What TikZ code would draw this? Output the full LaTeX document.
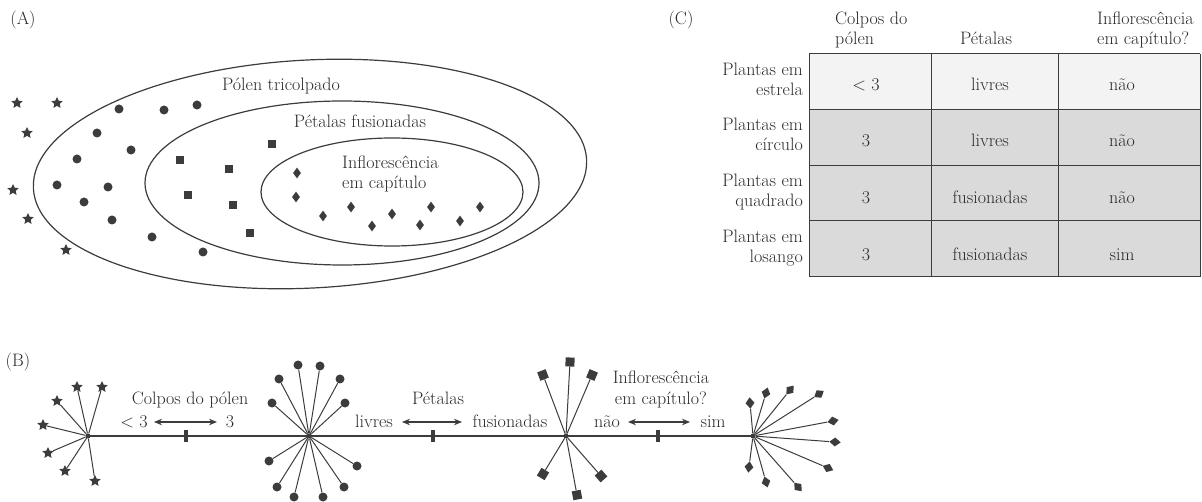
\documentclass[tikz,border=0pt]{standalone}
\usepackage{fontspec}
\usetikzlibrary{shapes.geometric,arrows.meta}
\definecolor{ink}{HTML}{3C3C3C}
\definecolor{txtc}{HTML}{2A2A2A}
\definecolor{rowa}{HTML}{F3F3F3}
\definecolor{rowb}{HTML}{DADADA}
\begin{document}
\begin{tikzpicture}[x=1pt,y=-1pt,
  txt/.style={anchor=base,inner sep=0pt,text=txtc,font=\fontsize{18}{20}\selectfont},
  txtl/.style={txt,anchor=base west},
  txtr/.style={txt,anchor=base east},
  dot/.style={circle,fill=ink,inner sep=0pt,minimum size=9pt},
  sqr/.style={rectangle,fill=ink,inner sep=0pt,minimum size=8pt},
  dia/.style={diamond,fill=ink,inner sep=0pt,minimum width=8pt,minimum height=11pt},
  stl/.style={star,star points=5,star point ratio=2.1,fill=ink,inner sep=0pt,minimum size=12pt},
  ell/.style={draw=ink,line width=1.2pt},
  spoke/.style={draw=ink,line width=1pt},
  hub/.style={circle,fill=ink,inner sep=0pt,minimum size=5pt},
  dbl/.style={draw=ink,line width=1.2pt,{Stealth[length=8pt,width=6.5pt]}-{Stealth[length=8pt,width=6.5pt]}},
  tickbar/.style={rectangle,fill=ink,inner sep=0pt,minimum width=3.6pt,minimum height=12pt},
  grid/.style={draw=ink,line width=1pt}
]
\useasboundingbox (0,0) rectangle (1202,502);

% ================= (A) =================
\node[txt] (labA) at (23,25) {(A)};
\draw[ell,rotate around={3:(310,174)}] (310,174) ellipse [x radius=277, y radius=114];
\draw[ell] (342,183) ellipse [x radius=197, y radius=82];
\draw[ell] (392,192) ellipse [x radius=131, y radius=54];
\node[txt] (aPolen) at (281,91) {Pólen tricolpado};
\node[txt] (aPet) at (360,128) {Pétalas fusionadas};
\node[txtl] (aInf1) at (342,169) {Inflorescência};
\node[txtl] (aInf2) at (342,189) {em capítulo};

\foreach \x/\y [count=\i] in {17/103,57/103,27/133,13/190,28/219,66/250}
  \node[stl] (aS\i) at (\x,\y) {};
\foreach \x/\y [count=\i] in {119/109,164/110,197/105,97/133,131/150,77/159,57/185,108/187,84/202,112/220,152/237,203/252}
  \node[dot] (aC\i) at (\x,\y) {};
\foreach \x/\y [count=\i] in {272/144,180/160,229/169,188/195,233/205,250/233}
  \node[sqr] (aQ\i) at (\x,\y) {};
\foreach \x/\y [count=\i] in {297/173,296/197,323/216,351/207,372/226,392/214,420/225,431/207,460/221,480/207}
  \node[dia] (aD\i) at (\x,\y) {};

% ================= (C) =================
\node[txt] (labC) at (681,25) {(C)};
\node[txtl] (cH1a) at (835,25) {Colpos do};
\node[txtl] (cH1b) at (835,45) {pólen};
\node[txt] (cH2) at (986,45) {Pétalas};
\node[txtl] (cH3a) at (1097,25) {Inflorescência};
\node[txtl] (cH3b) at (1097,45) {em capítulo?};

\fill[rowa] (809,54) rectangle (1200,110);
\fill[rowb] (809,110) rectangle (1200,277);
\foreach \yy in {54,110,166,221,277} \draw[grid] (809,\yy) -- (1200,\yy);
\foreach \xx in {809,931,1058,1200} \draw[grid] (\xx,54) -- (\xx,277);

\foreach \a/\yy [count=\i] in {estrela/76,círculo/131,quadrado/187,losango/243}{
  \node[txtr] (cR\i a) at (803,\yy) {Plantas em};
  \node[txtr] (cR\i b) at (803,\yy+20) {\a};
}
\foreach \p/\q/\r/\yy [count=\i] in {{< 3}/livres/não/91,3/livres/não/147,3/fusionadas/não/204,3/fusionadas/sim/261}{
  \node[txt] (cA\i) at (866,\yy) {\p};
  \node[txt] (cB\i) at (990,\yy) {\q};
  \node[txt] (cC\i) at (1122,\yy) {\r};
}

% ================= (B) =================
\node[txt] (labB) at (18,367) {(B)};
\node[hub] (hS) at (88,436) {};
\node[hub] (hC) at (309,436) {};
\node[hub] (hQ) at (566,436) {};
\node[hub] (hD) at (753,436) {};
\draw[draw=ink,line width=1.3pt] (hS.center) -- (hC.center) -- (hQ.center) -- (hD.center);
\node[tickbar] (t1) at (186,436) {};
\node[tickbar] (t2) at (433,436) {};
\node[tickbar] (t3) at (658,436) {};

\foreach \x/\y [count=\i] in {77/387,102/387,57/401,43/425,48/453,65/471,95/481}{
  \node[stl] (bS\i) at (\x,\y) {};
  \draw[spoke] (hS) -- (bS\i);
}
\foreach \x/\y [count=\i] in {298/365,320/366,279/379,340/379,272/403,345/403,269/461,357/466,277/487,344/487,294/497,323/497}{
  \node[dot] (bC\i) at (\x,\y) {};
  \draw[spoke] (hC) -- (bC\i);
}
\foreach \x/\y/\r [count=\i] in {570/362/-3,543/375/21,592/375/-23,543/474/-31,601/476/41,577/495/11}{
  \node[sqr,minimum size=9pt,rotate=\r] (bQ\i) at (\x,\y) {};
  \draw[spoke] (hQ) -- (bQ\i);
}
\foreach \x/\y/\r [count=\i] in {750/403/5,766/393/-17,790/390/-39,819/394/-57,833/421/-79,835/442/-94,828/468/-113,749/467/-187,766/482/-164,798/487/-139}{
  \node[dia,minimum width=9pt,minimum height=11.5pt,rotate=\r] (bD\i) at (\x,\y) {};
  \draw[spoke] (hD) -- (bD\i);
}

\node[txt] (bColpos) at (190,405) {Colpos do pólen};
\node[txt] (bLt) at (134,427) {< 3};
\node[txt] (bThree) at (230,427) {3};
\coordinate (a1l) at (154,422); \coordinate (a1r) at (217,422);
\draw[dbl] (a1l) -- (a1r);

\node[txt] (bPet) at (438,404) {Pétalas};
\node[txt] (bLiv) at (374,427) {livres};
\node[txt] (bFus) at (510,427) {fusionadas};
\coordinate (a2l) at (402,422); \coordinate (a2r) at (462,422);
\draw[dbl] (a2l) -- (a2r);

\node[txt] (bInf) at (661,384) {Inflorescência};
\node[txt] (bCap) at (661,404) {em capítulo?};
\node[txt] (bNao) at (607,427) {não};
\node[txt] (bSim) at (713,427) {sim};
\coordinate (a3l) at (628,422); \coordinate (a3r) at (690,422);
\draw[dbl] (a3l) -- (a3r);
\end{tikzpicture}
\end{document}
